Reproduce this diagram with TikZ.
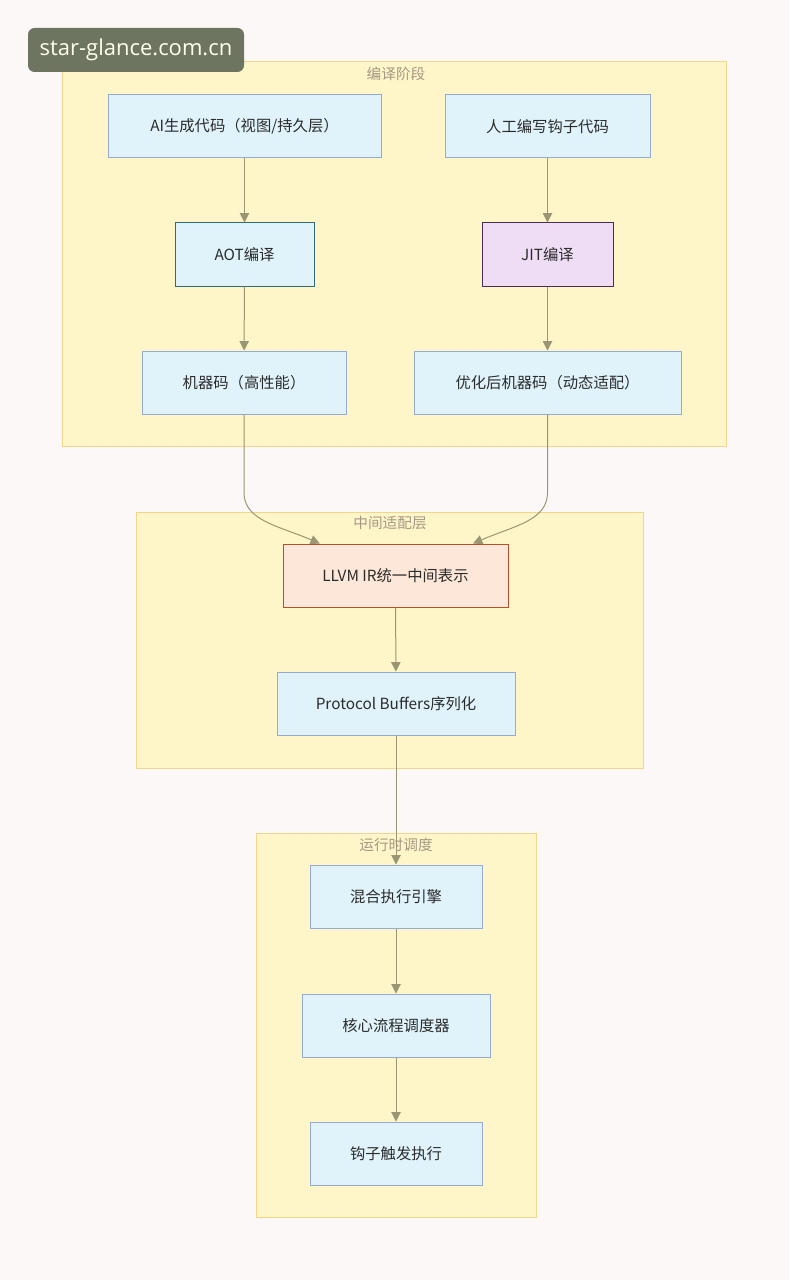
\documentclass[tikz,border=0pt]{standalone}
\usepackage{fontspec}
\setmainfont{Noto Sans CJK SC}
\newfontfamily\markfont{Open Sans}
\usetikzlibrary{arrows.meta,positioning,calc}
\definecolor{pageBg}{HTML}{FCF8F8}
\definecolor{stageFill}{HTML}{FEF5C8}
\definecolor{stageBorder}{HTML}{F1D68C}
\definecolor{stageText}{HTML}{A39A86}
\definecolor{flowFill}{HTML}{E0F3FB}
\definecolor{flowBorder}{HTML}{93ABD6}
\definecolor{flowText}{HTML}{2B2B2B}
\definecolor{aotBorder}{HTML}{2F6B78}
\definecolor{jitFill}{HTML}{EEDDF4}
\definecolor{jitBorder}{HTML}{4A2C5A}
\definecolor{irFill}{HTML}{FCE7D8}
\definecolor{irBorder}{HTML}{B5502C}
\definecolor{edgeColor}{HTML}{9A9674}
\definecolor{markFill}{HTML}{6D7561}
\tikzset{
    flowBox/.style={
        rectangle,
        draw=flowBorder,
        fill=flowFill,
        line width=0.75pt,
        minimum height=47.25pt,
        inner sep=0pt,
        font=\fontsize{11.5}{14}\selectfont,
        text=flowText
    },
    % Variants
    aot/.style={flowBox, draw=aotBorder},
    jit/.style={flowBox, fill=jitFill, draw=jitBorder},
    ir/.style={flowBox, fill=irFill, draw=irBorder},
    % Stages
    stageBox/.style={rectangle, draw=stageBorder, fill=stageFill, line width=0.75pt, inner sep=0pt},
    stageTitle/.style={font=\fontsize{11}{13}\selectfont, text=stageText, inner sep=0pt}
}
\begin{document}
\begin{tikzpicture}[
    x=0.75pt, y=-0.75pt,
    arr/.style={-{Triangle[length=7pt,width=7pt]}, line width=0.75pt, draw=edgeColor}
]
\fill[pageBg] (0,0) rectangle (789,1280);
\useasboundingbox (0,0) rectangle (789,1280);

% Stages
\node[stageBox, minimum width=498pt, minimum height=288pt] (compile) at (394,254) {};
\node[stageTitle] (compileT) at (396,74) {编译阶段};
\node[stageBox, minimum width=380.25pt, minimum height=192pt] (adapt) at (389.5,640) {};
\node[stageTitle] (adaptT) at (390,523) {中间适配层};
\node[stageBox, minimum width=210pt, minimum height=288pt] (runtime) at (396,1025) {};
\node[stageTitle] (runtimeT) at (396,845) {运行时调度};

% Compile stage
\node[flowBox, minimum width=204.75pt] (aiCode) at (244.5,126.5) {AI生成代码（视图/持久层）};
\node[flowBox, minimum width=153.75pt] (hookCode) at (547.5,126.5) {人工编写钩子代码};
\node[aot, minimum width=104.25pt] (aotC) at (244.5,254.5) {AOT编译};
\node[jit, minimum width=98.25pt] (jitC) at (547.5,254.5) {JIT编译};
\node[flowBox, minimum width=153pt] (machCode) at (244,382.5) {机器码（高性能）};
\node[flowBox, minimum width=200.25pt] (optCode) at (547.5,382.5) {优化后机器码（动态适配）};

% Adapter layer
\node[ir, minimum width=168.75pt] (llvm) at (395.5,575.5) {LLVM IR统一中间表示};
\node[flowBox, minimum width=178.5pt] (proto) at (396,703.5) {Protocol Buffers序列化};

% Runtime
\node[flowBox, minimum width=129pt] (engine) at (396,896.5) {混合执行引擎};
\node[flowBox, minimum width=141pt] (sched) at (396,1025.5) {核心流程调度器};
\node[flowBox, minimum width=129pt] (hookRun) at (396,1153.5) {钩子触发执行};

% Edges
\draw[arr] (aiCode) -- (aotC);
\draw[arr] (hookCode) -- (jitC);
\draw[arr] (aotC) -- (machCode);
\draw[arr] (jitC) -- (optCode);
\draw[arr] (machCode.south) -- ++(0,78) .. controls +(0,28) and +(-42,-18) .. ($(llvm.north west)!0.165!(llvm.north east)$);
\draw[arr] (optCode.south) -- ++(0,78) .. controls +(0,28) and +(42,-18) .. ($(llvm.north west)!0.843!(llvm.north east)$);
\draw[arr] (llvm) -- (proto);
\draw[arr] (proto) -- (engine);
\draw[arr] (engine) -- (sched);
\draw[arr] (sched) -- (hookRun);

% Watermark
\node[fill=markFill, rounded corners=5pt, minimum width=162pt, minimum height=33pt, inner sep=0pt,
      text=white!92!yellow, font=\markfont\fontsize{16.5}{18}\selectfont] (mark) at (136,50) {\raisebox{-2.5pt}{star-glance.com.cn}};
\end{tikzpicture}
\end{document}
